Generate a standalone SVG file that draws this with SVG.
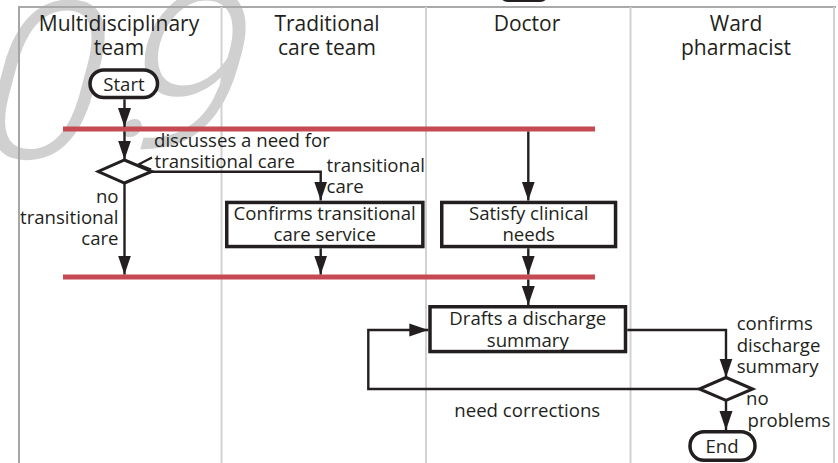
<svg xmlns="http://www.w3.org/2000/svg" width="838" height="463" viewBox="0 0 838 463">
  <style>
    .lbl { font-family: "Open Sans", "Liberation Sans", sans-serif; fill: #231f20; }
    .head { font-size: 21px; text-anchor: middle; }
    .body { font-size: 18.6px; }
    .mid { text-anchor: middle; }
    .end { text-anchor: end; }
    .box { fill: #ffffff; stroke: #231f20; stroke-width: 3.5; }
    .dec { fill: #ffffff; stroke: #231f20; stroke-width: 3; stroke-linejoin: miter; }
    .conn { fill: none; stroke: #231f20; stroke-width: 2.4; }
    .bar { stroke: #c64a54; stroke-width: 5; }
    .lane { stroke: #d2d2d2; stroke-width: 2; }
    .stamp { font-family: Roboto, "Open Sans", sans-serif; font-weight: 300; font-size: 220px; fill: #d0d0d0; }
  </style>
  <defs>
    <marker id="ah" markerUnits="userSpaceOnUse" markerWidth="20" markerHeight="14" refX="19" refY="7" orient="auto">
      <path d="M0,0.5 L19,7 L0,13.5 z" fill="#231f20"/>
    </marker>
  </defs>

  <rect width="838" height="463" fill="#ffffff"/>

  <!-- version stamp, glyphs placed one by one on a slanted baseline -->
  <text class="stamp" transform="skewX(-15)" x="8.7 141.8 148" y="158 136 148">0.9</text>

  <!-- header element cut by the top edge -->
  <rect x="500" y="-20" width="48" height="21" rx="8" fill="none" stroke="#231f20" stroke-width="2"/>

  <!-- swimlane frame -->
  <g id="lanes">
    <line x1="18" y1="7" x2="836" y2="7" stroke="#a9a9a9" stroke-width="2"/>
    <line x1="19" y1="7" x2="19" y2="463" stroke="#a6a6a6" stroke-width="2"/>
    <line class="lane" x1="221.5" y1="7" x2="221.5" y2="463"/>
    <line class="lane" x1="426" y1="7" x2="426" y2="463"/>
    <line class="lane" x1="630.5" y1="7" x2="630.5" y2="463"/>
    <line class="lane" x1="834" y1="7" x2="834" y2="463"/>
    <text class="lbl head" x="119" y="31">Multidisciplinary</text>
    <text class="lbl head" x="119" y="55">team</text>
    <text class="lbl head" x="327" y="31">Traditional</text>
    <text class="lbl head" x="327" y="55">care team</text>
    <text class="lbl head" x="527" y="31">Doctor</text>
    <text class="lbl head" x="736" y="31">Ward</text>
    <text class="lbl head" x="736" y="55">pharmacist</text>
  </g>

  <!-- synchronisation bars -->
  <g id="bars">
    <line class="bar" x1="63" y1="129" x2="595" y2="129"/>
    <line class="bar" x1="63" y1="277" x2="595" y2="277"/>
  </g>

  <!-- connectors -->
  <g id="connectors">
    <path class="conn" d="M124.5,99.3 V127" marker-end="url(#ah)"/>
    <path class="conn" d="M124.5,131.5 V159.5" marker-end="url(#ah)"/>
    <path class="conn" d="M124.5,183 V274.5" marker-end="url(#ah)"/>
    <path class="conn" d="M151.7,171.7 H320.7 V200.5" marker-end="url(#ah)"/>
    <path class="conn" d="M320.7,248.3 V274.5" marker-end="url(#ah)"/>
    <path class="conn" d="M528.3,131.5 V200.5" marker-end="url(#ah)"/>
    <path class="conn" d="M528.3,248.3 V274.5" marker-end="url(#ah)"/>
    <path class="conn" d="M528.3,279.5 V305" marker-end="url(#ah)"/>
    <path class="conn" d="M627.3,330 H726 V377.5" marker-end="url(#ah)"/>
    <path class="conn" d="M726,400.3 V430" marker-end="url(#ah)"/>
    <path class="conn" d="M699.3,389 H368.3 V330 H428.3" marker-end="url(#ah)"/>
    <polyline class="conn" points="152,157.5 138.5,164.5 151,169.5"/>
    <text class="lbl body" x="154" y="147">discusses a need for</text>
    <text class="lbl body" x="154.5" y="168.3">transitional care</text>
    <text class="lbl body" x="326.5" y="172">transitional</text>
    <text class="lbl body" x="326.5" y="193.3">care</text>
    <text class="lbl body end" x="118.5" y="203.3">no</text>
    <text class="lbl body end" x="118.5" y="224">transitional</text>
    <text class="lbl body end" x="118.5" y="245">care</text>
    <text class="lbl body" x="736.7" y="330">confirms</text>
    <text class="lbl body" x="736.7" y="351.7">discharge</text>
    <text class="lbl body" x="736.7" y="372.7">summary</text>
    <text class="lbl body" x="746" y="405">no</text>
    <text class="lbl body" x="747.5" y="426.7">problems</text>
    <text class="lbl body" x="454.3" y="416.7">need corrections</text>
  </g>

  <!-- nodes -->
  <g id="start">
    <rect class="box" x="90" y="70" width="67.5" height="27.5" rx="13.75"/>
    <text class="lbl body mid" x="124" y="90.7">Start</text>
  </g>
  <g id="decide-transitional">
    <polygon class="dec" points="124.5,160 151.7,171.5 124.5,183 98.3,171.5"/>
  </g>
  <g id="confirms-service">
    <rect class="box" x="226.75" y="202.45" width="196.1" height="44.1"/>
    <text class="lbl body mid" x="324.7" y="220">Confirms transitional</text>
    <text class="lbl body mid" x="324.7" y="241">care service</text>
  </g>
  <g id="satisfy-needs">
    <rect class="box" x="441.75" y="202.45" width="173.8" height="44.1"/>
    <text class="lbl body mid" x="528.7" y="220">Satisfy clinical</text>
    <text class="lbl body mid" x="528.7" y="241">needs</text>
  </g>
  <g id="drafts-summary">
    <rect class="box" x="430" y="306.75" width="195.5" height="44.8"/>
    <text class="lbl body mid" x="527.8" y="325">Drafts a discharge</text>
    <text class="lbl body mid" x="527.8" y="346.7">summary</text>
  </g>
  <g id="decide-problems">
    <polygon class="dec" points="726,377.5 752.7,389 726,400.3 699.3,389"/>
  </g>
  <g id="end">
    <rect class="box" x="690" y="431.75" width="65" height="28.5" rx="14"/>
    <text class="lbl body mid" x="722" y="453.3">End</text>
  </g>
</svg>
